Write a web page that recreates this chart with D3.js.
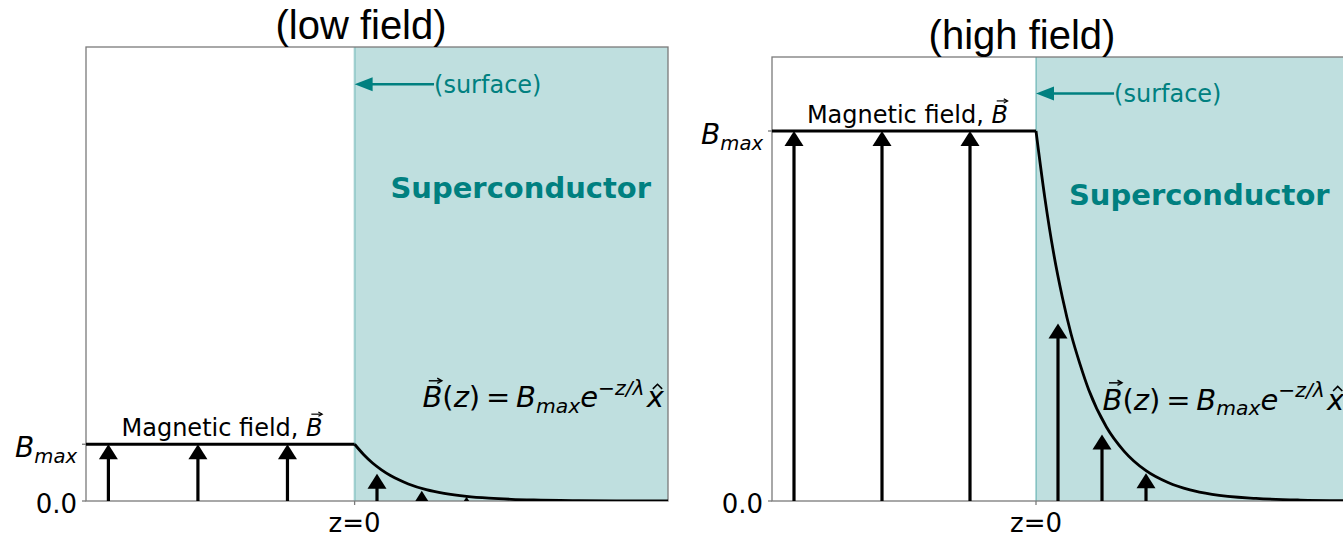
<!DOCTYPE html>
<html>
<head>
<meta charset="utf-8">
<script src="https://cdn.jsdelivr.net/npm/d3@7"></script>
<style>
  body { margin: 0; background: #fff; }
</style>
</head>
<body>
<svg id="chart" width="1343" height="538"></svg>
<script>
// field profile, in units of B_max
var profileZ = [-3, 0, 0.1, 0.2, 0.3, 0.4, 0.5, 0.6, 0.8, 1.0, 1.25, 1.5, 1.75, 2.0, 2.5, 3.0, 3.5];
var profileB = [1, 1, 0.82, 0.67, 0.55, 0.45, 0.37, 0.30, 0.20, 0.135, 0.082, 0.05, 0.03, 0.018, 0.007, 0.0025, 0.001];

// field arrows (position, height)
var arrowZ = [-2.75, -1.75, -0.75, 0.25, 0.75, 1.25];
var arrowB = [1, 1, 1, 0.48, 0.18, 0.075];

var panelTitles = ["(low field)", "(high field)"];
var panelYMax = [8, 1.2];
var zDomain = [-3, 3.5];
var xTickValues = [0];
var xTickLabels = ["z=0"];
var yTickValues = [0, 1];

var teal = "#008080";
var svg = d3.select("#chart");

// panel boxes on the page
var panels = [
  {left: 86, right: 668, top: 47, bottom: 501, titleX: 361, titleY: 39},
  {left: 772, right: 1344, top: 57, bottom: 501, titleX: 1022, titleY: 49}
];

// little helper for the mathtext-like labels
function drawMath(g, x, y, size, parts, color) {
  var cx = x;
  parts.forEach(function(p) {
    var small = p.sub || p.sup;
    var s = size * (small ? 0.7 : 1);
    var dy = p.sub ? size * 0.2 : (p.sup ? -size * 0.42 : 0);
    cx += (p.pre || 0) * size;
    var el = g.append("text")
      .attr("x", cx).attr("y", y + dy)
      .style("font-family", "DejaVu Sans")
      .style("font-size", s + "px")
      .style("font-style", p.it ? "italic" : "normal")
      .attr("fill", color || "#000")
      .attr("xml:space", "preserve")
      .text(p.t);
    var w = el.node().getComputedTextLength();
    if (p.vec) {
      var ay = y - size * 0.92;
      var ax0 = cx + w * 0.32, ax1 = cx + w * 0.95;
      g.append("line").attr("x1", ax0).attr("x2", ax1).attr("y1", ay).attr("y2", ay)
        .attr("stroke", color || "#000").attr("stroke-width", size * 0.05);
      g.append("path")
        .attr("d", "M" + (ax1 - size * 0.14) + "," + (ay - size * 0.09) + "L" + (ax1 + 0.5) + "," + ay + "L" + (ax1 - size * 0.14) + "," + (ay + size * 0.09))
        .attr("fill", "none").attr("stroke", color || "#000").attr("stroke-width", size * 0.05);
    }
    if (p.hat) {
      var hy = y - size * 0.74, hx = cx + w * 0.62;
      g.append("path")
        .attr("d", "M" + (hx - size * 0.16) + "," + (hy + size * 0.1) + "L" + hx + "," + (hy - size * 0.06) + "L" + (hx + size * 0.16) + "," + (hy + size * 0.1))
        .attr("fill", "none").attr("stroke", color || "#000").attr("stroke-width", size * 0.055);
    }
    cx += w + (p.gap || 0) * size;
  });
  return cx - x;
}

panels.forEach(function(box, i) {
  var x = d3.scaleLinear().domain(zDomain).range([box.left, box.right]);
  var y = d3.scaleLinear().domain([0, panelYMax[i]]).range([box.bottom, box.top]);
  var g = svg.append("g");

  var clipId = "clip" + i;
  svg.append("clipPath").attr("id", clipId).append("rect")
    .attr("x", box.left).attr("y", box.top)
    .attr("width", box.right - box.left).attr("height", box.bottom - box.top);

  // superconductor region
  g.append("rect")
    .attr("x", x(0)).attr("y", box.top)
    .attr("width", box.right - x(0)).attr("height", box.bottom - box.top)
    .attr("fill", teal).attr("fill-opacity", 0.25);
  g.append("line")
    .attr("x1", x(0)).attr("x2", x(0)).attr("y1", box.top).attr("y2", box.bottom)
    .attr("stroke", teal).attr("stroke-opacity", 0.3).attr("stroke-width", 2);

  // frame
  g.append("rect")
    .attr("x", box.left).attr("y", box.top)
    .attr("width", box.right - box.left).attr("height", box.bottom - box.top)
    .attr("fill", "none").attr("stroke", "#7a7a7a").attr("stroke-width", 1.3);

  // ticks
  yTickValues.forEach(function(v) {
    g.append("line").attr("x1", box.left - 4).attr("x2", box.left)
      .attr("y1", y(v)).attr("y2", y(v)).attr("stroke", "#7a7a7a").attr("stroke-width", 1.3);
  });
  xTickValues.forEach(function(v, k) {
    g.append("line").attr("x1", x(v)).attr("x2", x(v))
      .attr("y1", box.bottom).attr("y2", box.bottom + 4).attr("stroke", "#7a7a7a").attr("stroke-width", 1.3);
    g.append("text").attr("x", x(v)).attr("y", box.bottom + 31)
      .attr("text-anchor", "middle")
      .style("font-family", "DejaVu Sans").style("font-size", "26px")
      .text(xTickLabels[k]);
  });

  g.append("text").attr("x", box.left - 9).attr("y", y(0) + 12)
    .attr("text-anchor", "end")
    .style("font-family", "DejaVu Sans").style("font-size", "26px")
    .text("0.0");
  var bl = g.append("g");
  var bw = drawMath(bl, 0, y(1) + 13, 28, [{t: "B", it: true}, {t: "max", it: true, sub: true}]);
  bl.attr("transform", "translate(" + (box.left - 9 - bw) + ",0)");

  // field profile
  var pts = profileZ.map(function(z, k) { return [z, profileB[k]]; });
  var inner = g.append("g").attr("clip-path", "url(#" + clipId + ")");
  inner.append("path")
    .datum(pts.filter(function(d) { return d[0] <= 0; }))
    .attr("d", d3.line().x(function(d) { return x(d[0]); }).y(function(d) { return y(d[1]); }))
    .attr("fill", "none").attr("stroke", "#000").attr("stroke-width", 2.8);
  inner.append("path")
    .datum(pts.filter(function(d) { return d[0] >= 0; }))
    .attr("d", d3.line().curve(d3.curveMonotoneX).x(function(d) { return x(d[0]); }).y(function(d) { return y(d[1]); }))
    .attr("fill", "none").attr("stroke", "#000").attr("stroke-width", 2.8);

  // field arrows
  arrowZ.forEach(function(z, k) {
    var ax = x(z), tip = y(arrowB[k]), base = y(0);
    var headLen = 15, headHalf = 9.5;
    inner.append("line").attr("x1", ax).attr("x2", ax)
      .attr("y1", base).attr("y2", Math.min(base, tip + headLen - 1))
      .attr("stroke", "#000").attr("stroke-width", 3.2);
    inner.append("path")
      .attr("d", "M" + ax + "," + tip + "L" + (ax + headHalf) + "," + (tip + headLen) + "L" + (ax - headHalf) + "," + (tip + headLen) + "Z")
      .attr("fill", "#000");
  });

  var w = box.right - box.left, h = box.bottom - box.top;
  var fx = function(f) { return box.left + f * w; };
  var fy = function(f) { return box.bottom - f * h; };

  // surface annotation
  var sy = fy(0.918);
  g.append("line").attr("x1", fx(0.598)).attr("x2", x(0) + 12).attr("y1", sy).attr("y2", sy)
    .attr("stroke", teal).attr("stroke-width", 2.5);
  g.append("path")
    .attr("d", "M" + x(0) + "," + sy + "L" + (x(0) + 18) + "," + (sy - 7) + "L" + (x(0) + 18) + "," + (sy + 7) + "Z")
    .attr("fill", teal);
  g.append("text").attr("x", fx(0.598)).attr("y", sy + 9)
    .style("font-family", "DejaVu Sans").style("font-size", "24px")
    .attr("fill", teal).text("(surface)");

  g.append("text").attr("x", fx(0.747)).attr("y", fy(0.667))
    .attr("text-anchor", "middle")
    .style("font-family", "DejaVu Sans").style("font-size", "29px").style("font-weight", "bold")
    .attr("fill", teal).text("Superconductor");

  // magnetic field label
  drawMath(g, fx(0.061), y(1) - 8, 24, [{t: "Magnetic field, "}, {t: "B", it: true, vec: true}]);

  // formula
  drawMath(g, fx(0.578), fy(0.206), 29, [
    {t: "B", it: true, vec: true},
    {t: "("}, {t: "z", it: true}, {t: ")", gap: 0.2}, {t: "="}, 
    {t: "B", it: true, pre: 0.2}, {t: "max", it: true, sub: true},
    {t: "e", it: true}, {t: "\u2212z/\u03bb", it: true, sup: true, gap: 0.08},
    {t: "x", it: true, hat: true}
  ]);

  // title
  svg.append("text").attr("x", box.titleX).attr("y", box.titleY)
    .attr("text-anchor", "middle")
    .style("font-family", "Liberation Sans, Arial, sans-serif").style("font-size", "40px")
    .text(panelTitles[i]);
});
</script>
</body>
</html>
